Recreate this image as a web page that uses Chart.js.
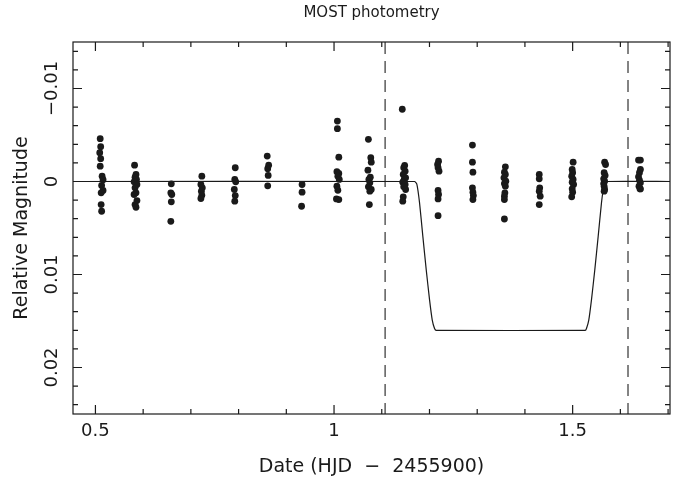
<!DOCTYPE html>
<html>
<head>
<meta charset="utf-8">
<script src="https://cdn.jsdelivr.net/npm/chart.js@4.4.1/dist/chart.umd.min.js"></script>
<style>
  body { margin: 0; background: #fff; }
</style>
</head>
<body>
<canvas id="most" width="681" height="485"></canvas>
<script>
// MOST photometry points (HJD - 2455900, relative magnitude)
const photTime = [
  0.510, 0.511, 0.509, 0.511, 0.510, 0.514, 0.516, 0.513, 0.516, 0.512, 0.512, 0.513,
  0.582, 0.585, 0.583, 0.586, 0.581, 0.587, 0.583, 0.585, 0.581, 0.587, 0.583, 0.585,
  0.659, 0.658, 0.660, 0.659, 0.658,
  0.723, 0.721, 0.724, 0.722, 0.723, 0.721,
  0.793, 0.792, 0.794, 0.791, 0.793, 0.792,
  0.860, 0.863, 0.861, 0.862, 0.861,
  0.933, 0.933, 0.932,
  1.007, 1.007, 1.010, 1.006, 1.010, 1.008, 1.011, 1.006, 1.008, 1.005, 1.010,
  1.072, 1.077, 1.078, 1.071, 1.076, 1.073, 1.075, 1.072, 1.078, 1.075, 1.074,
  1.143, 1.148, 1.146, 1.149, 1.145, 1.150, 1.147, 1.144, 1.149, 1.146, 1.150, 1.145, 1.144,
  1.219, 1.217, 1.218, 1.220, 1.218, 1.219, 1.218, 1.218,
  1.290, 1.290, 1.291, 1.290, 1.291, 1.292, 1.291,
  1.359, 1.357, 1.359, 1.356, 1.360, 1.357, 1.359, 1.358, 1.357, 1.357, 1.357,
  1.430, 1.430, 1.431, 1.430, 1.432, 1.430,
  1.501, 1.499, 1.500, 1.498, 1.501, 1.499, 1.502, 1.499, 1.500, 1.498,
  1.567, 1.569, 1.566, 1.568, 1.565, 1.567, 1.565, 1.566, 1.567, 1.566,
  1.638, 1.642, 1.642, 1.640, 1.638, 1.640, 1.642, 1.639, 1.641, 1.642
];
const photMag = [
  -0.0046, -0.00375, -0.0031, -0.00245, -0.00165, -0.00057, -0.0002, 0.00043, 0.00097, 0.00122, 0.00248, 0.0032,
  -0.00176, -0.00076, -0.00046, -0.00022, 0.00003, 0.00032, 0.00068, 0.00122, 0.0014, 0.00205, 0.00248, 0.00277,
  0.00025, 0.00122, 0.0014, 0.00219, 0.00428,
  -0.00057, 0.00032, 0.00068, 0.00104, 0.00148, 0.00183,
  -0.00148, -0.00022, 0.00003, 0.00086, 0.00151, 0.00212,
  -0.00273, -0.00176, -0.00137, -0.00065, 0.00046,
  0.00032, 0.00115, 0.00266,
  -0.0065, -0.00568, -0.00262, -0.00105, -0.00086, -0.00057, -0.00022, 0.0005, 0.00094, 0.00187, 0.00194,
  -0.00453, -0.00256, -0.00208, -0.00122, -0.00046, -0.00022, 0.00014, 0.00057, 0.00086, 0.00104, 0.00248,
  -0.00777, -0.00173, -0.00148, -0.00111, -0.00076, -0.0004, -0.00022, 0.00007, 0.00032, 0.00057, 0.00086, 0.00165, 0.00212,
  -0.00219, -0.00183, -0.00148, -0.00111, 0.00097, 0.0014, 0.00187, 0.00367,
  -0.00392, -0.00208, -0.001, 0.00068, 0.00115, 0.00151, 0.00194,
  -0.00158, -0.001, -0.00076, -0.0004, -0.00003, 0.00022, 0.0005, 0.00122, 0.00158, 0.00194, 0.00403,
  -0.00076, -0.00029, 0.00068, 0.00104, 0.00158, 0.00248,
  -0.00208, -0.00129, -0.00094, -0.00057, -0.00022, 0.00007, 0.00032, 0.00079, 0.00115, 0.00165,
  -0.00208, -0.00183, -0.00094, -0.00065, -0.00029, -0.00003, 0.00022, 0.0005, 0.00086, 0.00104,
  -0.0023, -0.0023, -0.00129, -0.00094, -0.0005, -0.00014, 0.00014, 0.0005, 0.00079, 0.0008
];

// transit model curve
const modelTime = [0.453, 1.1687, 1.1736, 1.1792, 1.1861, 1.1932, 1.2001, 1.2058, 1.2106, 1.2141,
                   1.5263, 1.5290, 1.5338, 1.5395, 1.5464, 1.5535, 1.5604, 1.5660, 1.5709, 1.704];
const modelMag = [0, 0, 0.0003, 0.0023, 0.0059, 0.0095, 0.0127, 0.0149, 0.0158, 0.016,
                  0.016, 0.0158, 0.0149, 0.0127, 0.0095, 0.0059, 0.0023, 0.0003, 0, 0];

// dashed vertical marks
const markTimes = [1.107, 1.616];

const xTickValues = [0.5, 1, 1.5];
const xTickLabels = ['0.5', '1', '1.5'];
const xMinorTicks = [0.6, 0.7, 0.8, 0.9, 1.1, 1.2, 1.3, 1.4, 1.6, 1.7];
const yTickValues = [-0.01, 0, 0.01, 0.02];
const yTickLabels = ['\u22120.01', '0', '0.01', '0.02'];
const yMinorTicks = [-0.014, -0.012, -0.008, -0.006, -0.004, -0.002, 0.002, 0.004, 0.006, 0.008,
                     0.012, 0.014, 0.016, 0.018, 0.022, 0.024];

const xMin = 0.453, xMax = 1.704, yMin = -0.015, yMax = 0.025;
const ink = '#1a1a1a';
const fontFam = "'DejaVu Sans', sans-serif";

const points = photTime.map((t, i) => ({ x: t, y: photMag[i] }));
const model = modelTime.map((t, i) => ({ x: t, y: modelMag[i] }));

const markSets = markTimes.map(t => ({
  type: 'line',
  data: [{ x: t, y: yMin }, { x: t, y: yMax }],
  borderColor: '#333',
  borderWidth: 1.2,
  borderDash: [12, 7],
  pointRadius: 0,
  order: 3
}));

// frame, inward ticks on all sides, rotated y labels
const framePlugin = {
  id: 'frame',
  afterDatasetsDraw(chart) {
    const { ctx, chartArea: a, scales: { x, y } } = chart;
    ctx.save();
    ctx.strokeStyle = ink;
    ctx.lineWidth = 1.2;
    ctx.strokeRect(a.left, a.top, a.right - a.left, a.bottom - a.top);
    ctx.beginPath();
    const xt = (v, len) => {
      const px = x.getPixelForValue(v);
      ctx.moveTo(px, a.bottom); ctx.lineTo(px, a.bottom - len);
      ctx.moveTo(px, a.top); ctx.lineTo(px, a.top + len);
    };
    const yt = (v, len) => {
      const py = y.getPixelForValue(v);
      ctx.moveTo(a.left, py); ctx.lineTo(a.left + len, py);
      ctx.moveTo(a.right, py); ctx.lineTo(a.right - len, py);
    };
    xTickValues.forEach(v => xt(v, 9));
    xMinorTicks.forEach(v => xt(v, 5));
    yTickValues.forEach(v => yt(v, 9));
    yMinorTicks.forEach(v => yt(v, 5));
    ctx.stroke();

    ctx.fillStyle = ink;
    ctx.font = '18px ' + fontFam;
    ctx.textAlign = 'center';
    ctx.textBaseline = 'middle';
    yTickValues.forEach((v, i) => {
      ctx.save();
      ctx.translate(52, y.getPixelForValue(v));
      ctx.rotate(-Math.PI / 2);
      ctx.fillText(yTickLabels[i], 0, 0);
      ctx.restore();
    });
    ctx.restore();
  }
};

new Chart(document.getElementById('most'), {
  type: 'scatter',
  data: {
    datasets: [
      {
        data: points,
        backgroundColor: ink,
        borderWidth: 0,
        pointRadius: 3.4,
        order: 1
      },
      {
        type: 'line',
        data: model,
        borderColor: ink,
        borderWidth: 1.2,
        pointRadius: 0,
        tension: 0.15,
        order: 2
      },
      ...markSets
    ]
  },
  options: {
    responsive: false,
    animation: false,
    layout: { padding: { left: 0, right: 11, top: 0, bottom: 0 } },
    plugins: {
      legend: { display: false },
      tooltip: { enabled: false },
      title: {
        display: true,
        fullSize: false,
        text: 'MOST photometry',
        color: ink,
        font: { family: fontFam, size: 15, weight: 'normal' },
        padding: { top: 4, bottom: 20 }
      }
    },
    scales: {
      x: {
        type: 'linear',
        min: xMin,
        max: xMax,
        grid: { display: false, drawTicks: false },
        border: { display: false },
        ticks: {
          stepSize: 0.5,
          includeBounds: false,
          padding: 7,
          color: ink,
          font: { family: fontFam, size: 18 },
          callback: v => {
            const i = xTickValues.findIndex(t => Math.abs(t - v) < 1e-6);
            return i >= 0 ? xTickLabels[i] : '';
          }
        },
        title: {
          display: true,
          text: 'Date (HJD  \u2212  2455900)',
          color: ink,
          font: { family: fontFam, size: 19 },
          padding: { top: 0, bottom: 7 }
        },
        afterFit: s => { s.height = 71; }
      },
      y: {
        type: 'linear',
        reverse: true,
        min: yMin,
        max: yMax,
        grid: { display: false, drawTicks: false },
        border: { display: false },
        ticks: { display: false, stepSize: 0.01 },
        title: {
          display: true,
          text: 'Relative Magnitude',
          color: ink,
          font: { family: fontFam, size: 19 },
          padding: { top: 11, bottom: 0 }
        },
        afterFit: s => { s.width = 73; }
      }
    }
  },
  plugins: [framePlugin]
});
</script>
</body>
</html>
